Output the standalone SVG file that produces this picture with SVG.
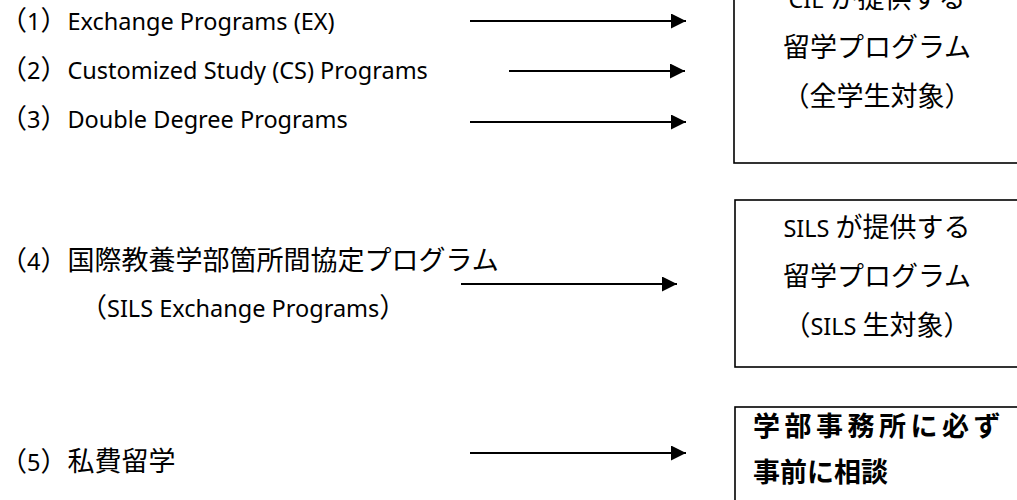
<svg xmlns="http://www.w3.org/2000/svg" width="1017" height="500" viewBox="0 0 1017 500">
<style>
.t{font-family:"Noto Sans","Noto Sans CJK JP",sans-serif;font-size:23.5px;fill:#000}
.cj{font-family:"Noto Sans CJK JP",sans-serif;font-size:27px}
.bx{fill:#fff;stroke:#000;stroke-width:1.6}
.bt{font-family:"Noto Sans","Noto Sans CJK JP",sans-serif;font-size:23.5px;fill:#000;text-anchor:middle}
.bb{font-family:"Noto Sans CJK JP",sans-serif;font-size:27px;font-weight:bold;fill:#000}
.ar{stroke:#000;stroke-width:2.2;fill:none;marker-end:url(#ah)}
</style>
<defs>
<marker id="ah" markerUnits="userSpaceOnUse" markerWidth="15" markerHeight="15" refX="15" refY="7.5" orient="auto">
<path d="M0,0 L15,7.5 L0,15 Z" fill="#000"/>
</marker>
</defs>
<rect width="1017" height="500" fill="#fff"/>
<g id="item1"><text class="t" x="0" y="30"><tspan class="cj">（</tspan>1<tspan class="cj">）</tspan>Exchange Programs (EX)</text></g>
<g id="item2"><text class="t" x="0" y="79"><tspan class="cj">（</tspan>2<tspan class="cj">）</tspan>Customized Study (CS) Programs</text></g>
<g id="item3"><text class="t" x="0" y="128"><tspan class="cj">（</tspan>3<tspan class="cj">）</tspan>Double Degree Programs</text></g>
<g id="item4"><text class="t" x="0" y="270"><tspan class="cj">（</tspan>4<tspan class="cj">）国際教養学部箇所間協定プログラム</tspan></text>
<text class="t" x="80" y="317"><tspan class="cj">（</tspan>SILS Exchange Programs<tspan class="cj">）</tspan></text></g>
<g id="item5"><text class="t" x="0" y="471"><tspan class="cj">（</tspan>5<tspan class="cj">）私費留学</tspan></text></g>
<g id="box-cie"><rect class="bx" x="734" y="-6" width="300" height="169"/>
<text class="bt" x="877" y="8">CIE <tspan class="cj">が提供する</tspan></text>
<text class="bt" x="877" y="57"><tspan class="cj">留学プログラム</tspan></text>
<text class="bt" x="877" y="106"><tspan class="cj">（全学生対象）</tspan></text></g>
<g id="box-sils"><rect class="bx" x="735" y="200" width="300" height="167"/>
<text class="bt" x="877" y="237">SILS <tspan class="cj">が提供する</tspan></text>
<text class="bt" x="877" y="286"><tspan class="cj">留学プログラム</tspan></text>
<text class="bt" x="877" y="335"><tspan class="cj">（</tspan>SILS <tspan class="cj">生対象）</tspan></text></g>
<g id="box-office"><rect class="bx" x="735" y="407" width="300" height="110"/>
<text class="bb" x="753" y="436" letter-spacing="4.5">学部事務所に必ず</text>
<text class="bb" x="753" y="482">事前に相談</text></g>
<g id="connectors">
<line class="ar" x1="470" y1="21" x2="686" y2="21"/>
<line class="ar" x1="509" y1="71" x2="685" y2="71"/>
<line class="ar" x1="470" y1="122" x2="686" y2="122"/>
<line class="ar" x1="461" y1="284" x2="677" y2="284"/>
<line class="ar" x1="470" y1="453" x2="686" y2="453"/>
</g>
</svg>
